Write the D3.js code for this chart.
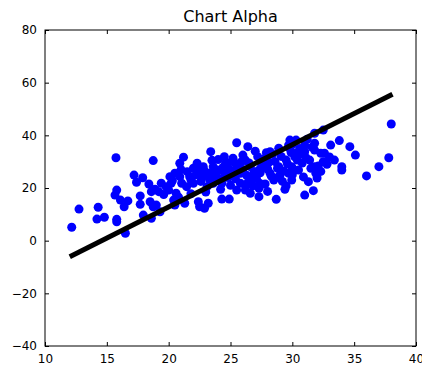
<!DOCTYPE html>
<html>
<head>
<meta charset="utf-8">
<script src="https://cdn.jsdelivr.net/npm/d3@7"></script>
<style>
  body { margin: 0; background: #fff; }
  svg text { font-family: "DejaVu Sans", sans-serif; }
</style>
</head>
<body>
<div id="chart"></div>
<script>
// scatter values
const xs = [
  12.16, 12.75, 14.3, 14.2, 14.8, 15.74, 15.8, 15.66, 15.8, 15.8, 16.1, 16.7, 16.4, 16.5,
  17.2, 17.4, 17.9, 17.7, 17.7, 17.95, 18.6, 18.4, 18.75, 18.5, 18.75, 18.6, 19.2, 19.0,
  19.4, 19.3, 20.0, 20.1, 20.2, 20.4, 20.5, 20.6, 20.5, 20.9, 21.2, 21.05, 21.3, 20.9,
  21.45, 21.7, 22.0, 22.3, 22.4, 22.5, 22.9, 23.2, 22.8, 23.4, 23.2, 23.6, 23.1, 23.9,
  23.6, 24.3, 24.9, 24.5, 24.6, 24.1, 24.5, 24.3, 24.95, 25.5, 25.2, 25.5, 25.5, 25.8,
  25.8, 26.2, 26.2, 26.4, 26.6, 26.2, 26.6, 26.7, 27.2, 27.3, 27.3, 27.35, 27.3, 27.9,
  28.2, 28.2, 28.5, 28.7, 28.9, 28.9, 28.9, 29.4, 29.5, 29.7, 29.7, 29.8, 29.95, 29.95,
  30.3, 30.3, 30.4, 30.5, 31.0, 31.0, 31.3, 31.4, 31.7, 31.8, 31.8, 31.8, 31.8, 31.9,
  32.5, 32.3, 32.5, 32.3, 32.6, 33.1, 33.4, 33.8, 34.0, 34.0, 34.65, 35.1, 36.0, 37.0,
  37.8, 38.0,
  21.5, 21.8, 22.2, 22.6, 22.9, 23.3, 23.7, 24.0, 24.4, 24.8, 25.1, 25.4, 25.6, 26.0,
  26.3, 26.5, 26.9, 27.1, 27.5, 27.7, 28.0, 28.3, 28.6, 28.8, 29.1, 29.3, 29.6, 29.9,
  30.1, 30.6, 30.8, 31.1, 31.5, 30.0, 29.2, 27.8, 26.8, 25.0, 24.2, 23.0, 21.8, 20.8,
  19.6, 19.8, 18.9, 22.0, 23.5, 24.8, 26.0, 27.0, 28.4, 30.0, 31.2, 30.9, 32.0, 32.8,
  33.0, 31.6, 29.5, 28.0,
  20.3, 21.0, 22.5, 23.8, 24.6, 25.3, 26.6, 27.4, 28.1, 29.0, 30.2, 31.0, 32.1, 25.9,
  24.0, 22.7, 27.9, 29.8, 30.7, 26.4
];
const ys = [
  5.1, 12.0, 12.7, 8.2, 8.9, 31.5, 19.2, 17.3, 8.1, 7.2, 15.4, 15.1, 12.9, 2.8,
  24.9, 22.2, 23.9, 17.0, 13.8, 9.7, 8.5, 21.5, 30.4, 14.8, 12.9, 18.6, 18.6, 13.5,
  21.8, 11.0, 19.2, 24.3, 21.8, 15.4, 25.6, 18.0, 13.5, 29.4, 31.7, 21.8, 14.2, 24.3,
  20.5, 24.3, 21.8, 29.4, 14.8, 12.9, 12.3, 14.2, 28.1, 33.8, 25.6, 28.1, 20.5, 24.3,
  21.8, 15.8, 15.8, 31.9, 29.4, 26.8, 24.3, 21.8, 26.8, 37.2, 31.3, 28.1, 19.2, 21.8,
  25.6, 19.2, 21.0, 35.7, 18.0, 30.6, 28.1, 24.3, 31.9, 19.9, 16.7, 21.8, 26.8, 29.4,
  33.8, 25.6, 23.0, 15.7, 35.1, 28.1, 24.3, 19.5, 30.6, 36.3, 25.6, 38.2, 28.1, 23.0,
  38.2, 33.2, 30.6, 26.8, 17.3, 33.8, 22.4, 30.6, 19.0, 40.8, 37.0, 34.4, 28.1, 25.6,
  42.0, 33.2, 30.0, 26.3, 33.2, 36.3, 30.6, 38.0, 26.8, 28.1, 35.7, 32.5, 24.6, 28.1,
  31.5, 44.3,
  26.2, 23.0, 25.0, 22.5, 26.5, 23.2, 25.5, 22.8, 27.8, 24.0, 26.0, 23.5, 28.8, 27.0,
  24.8, 29.5, 26.2, 23.6, 28.0, 31.0, 27.2, 24.5, 30.0, 27.5, 32.0, 26.5, 29.2, 33.5,
  27.0, 35.0, 29.5, 31.5, 27.5, 25.0, 22.5, 21.5, 20.8, 21.0, 19.5, 18.5, 17.8, 16.5,
  17.5, 20.5, 19.5, 27.5, 30.5, 29.5, 32.5, 34.0, 32.8, 36.5, 38.5, 24.2, 23.8, 29.0,
  31.8, 35.5, 20.8, 18.7,
  22.8, 27.0, 27.3, 26.9, 25.2, 29.8, 22.3, 25.8, 29.8, 24.8, 31.8, 36.2, 28.4, 30.0,
  30.8, 24.3, 33.4, 35.0, 33.0, 22.0
];
// fitted line end points
const fitX = [12, 38.1];
const fitY = [-6.1, 55.6];
const xTicks = [10, 15, 20, 25, 30, 35, 40];
const yTicks = [-40, -20, 0, 20, 40, 60, 80];
const title = 'Chart Alpha';

const width = 422, height = 369;
const margin = { top: 30, right: 6, bottom: 23, left: 45 };
const innerW = width - margin.left - margin.right;
const innerH = height - margin.top - margin.bottom;

const svg = d3.select('#chart').append('svg')
  .attr('width', width)
  .attr('height', height);

const g = svg.append('g')
  .attr('transform', `translate(${margin.left},${margin.top})`);

const x = d3.scaleLinear().domain([10, 40]).range([0, innerW]);
const y = d3.scaleLinear().domain([-40, 80]).range([innerH, 0]);

const fmt = d => d < 0 ? '\u2212' + Math.abs(d) : String(d);

// 刻度 (inward, all four sides)
g.append('g')
  .attr('transform', `translate(0,${innerH})`)
  .call(d3.axisBottom(x).tickValues(xTicks).tickSize(-4).tickPadding(8).tickFormat(fmt));
g.append('g')
  .call(d3.axisTop(x).tickValues(xTicks).tickSize(-4).tickFormat(''));
g.append('g')
  .call(d3.axisLeft(y).tickValues(yTicks).tickSize(-4).tickPadding(8).tickFormat(fmt));
g.append('g')
  .attr('transform', `translate(${innerW},0)`)
  .call(d3.axisRight(y).tickValues(yTicks).tickSize(-4).tickFormat(''));

g.selectAll('.domain').remove();
g.selectAll('.tick line').attr('stroke', '#000').attr('stroke-width', 1);
g.selectAll('.tick text').attr('fill', '#000').style('font-size', '12px');

// 散点
g.append('g')
  .selectAll('circle')
  .data(d3.zip(xs, ys))
  .join('circle')
  .attr('cx', d => x(d[0]))
  .attr('cy', d => y(d[1]))
  .attr('r', 4.5)
  .attr('fill', '#0000ff');

// 拟合线
g.append('line')
  .attr('x1', x(fitX[0])).attr('y1', y(fitY[0]))
  .attr('x2', x(fitX[1])).attr('y2', y(fitY[1]))
  .attr('stroke', '#000')
  .attr('stroke-width', 5);

// 边框
g.append('rect')
  .attr('width', innerW)
  .attr('height', innerH)
  .attr('fill', 'none')
  .attr('stroke', '#000')
  .attr('stroke-width', 1);

svg.append('text')
  .attr('x', margin.left + innerW / 2)
  .attr('y', 22)
  .attr('text-anchor', 'middle')
  .style('font-size', '16px')
  .text(title);
</script>
</body>
</html>
